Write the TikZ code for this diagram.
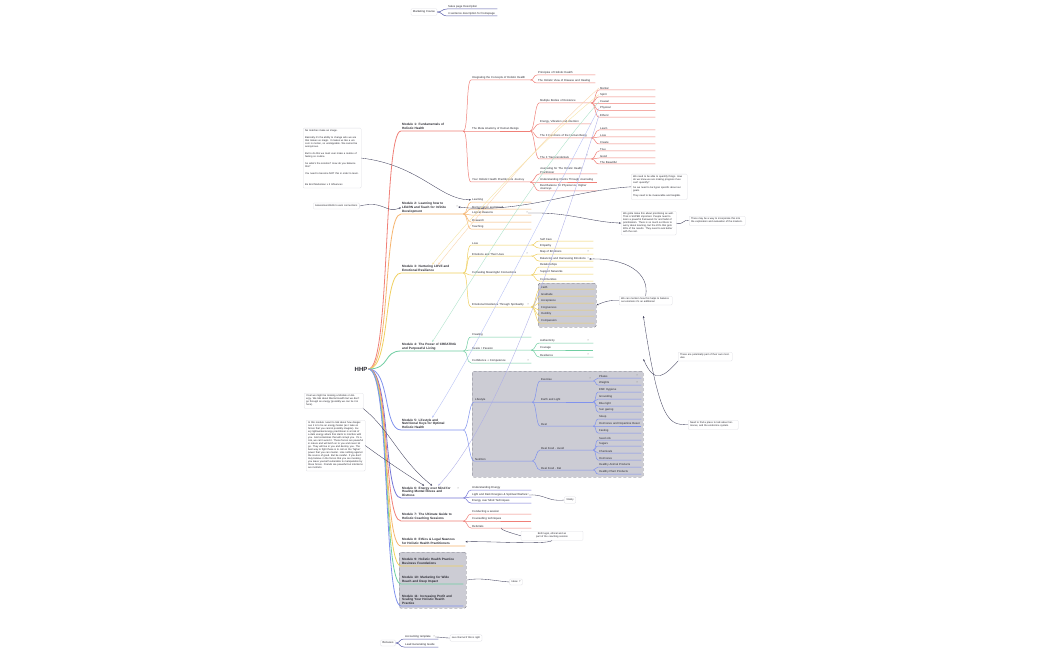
\documentclass[tikz,border=0pt]{standalone}
\usepackage{fontspec}
\setmainfont{Liberation Sans}
\usetikzlibrary{arrows.meta, positioning}

\definecolor{mmred}{RGB}{240,128,120}
\definecolor{mmorange}{RGB}{246,180,110}
\definecolor{mmyellow}{RGB}{240,208,96}
\definecolor{mmgreen}{RGB}{112,206,162}
\definecolor{mmblue}{RGB}{128,146,238}
\definecolor{mmpurple}{RGB}{118,118,214}
\definecolor{mmslate}{RGB}{92,96,170}
\definecolor{linkdark}{RGB}{64,64,92}
\definecolor{notegrey}{RGB}{222,222,228}
\definecolor{boxgrey}{RGB}{204,204,212}
\definecolor{boxedge}{RGB}{110,110,122}
\definecolor{textdark}{RGB}{40,40,48}

\tikzset{
  rootnode/.style={font=\fontsize{6}{7}\selectfont\bfseries, text=textdark, inner sep=1pt},
  modlabel/.style={anchor=south west, inner xsep=1pt, inner ysep=0.9pt, text width=60pt, align=left, text=textdark, font=\fontsize{3.15}{3.9}\selectfont\bfseries},
  leaf/.style={anchor=south west, inner xsep=1pt, inner ysep=0.7pt, align=left, text=textdark, font=\fontsize{2.8}{3.2}\selectfont},
  note/.style={draw=notegrey, fill=white, rounded corners=1pt, line width=0.3pt, inner sep=2pt, align=left, text=textdark, font=\fontsize{2.5}{3}\selectfont},
  qmark/.style={inner sep=0.3pt, text=gray, font=\fontsize{2.6}{3}\selectfont},
  link/.style={draw=linkdark, line width=0.35pt, -{Stealth[length=2.2pt,width=1.8pt]}},
  plainlink/.style={draw=linkdark, line width=0.35pt},
  cross/.style={line width=0.35pt, -{Stealth[length=2.2pt,width=1.8pt]}},
  trunk/.style={line width=0.8pt},
  twig/.style={line width=0.5pt},
  greybox/.style={fill=boxgrey, draw=boxedge, densely dashed, line width=0.35pt, rounded corners=1.5pt, inner sep=0pt, anchor=north west},
}

\begin{document}
\begin{tikzpicture}[x=1pt, y=-1pt]
\fill[white] (0,0) rectangle (1050,650);
\useasboundingbox (0,0) rectangle (1050,650);

% grey group boxes
\node[greybox, minimum width=58pt, minimum height=44pt] (spbox) at (538,283) {};
\node[greybox, minimum width=171pt, minimum height=106pt] (lifebox) at (472,371) {};
\node[greybox, minimum width=67pt, minimum height=56pt] (bizbox) at (399,552) {};

% root
\node[rootnode] (hhp) at (361,369) {HHP};

% modules
\node[modlabel] (m1) at (401,131) {Module 1: Fundamentals of\\Holistic Health};
\node[modlabel] (m2) at (401,214) {Module 2: Learning how to\\LEARN and Teach for Infinite\\Development};
\node[modlabel] (m3) at (401,273) {Module 3: Nurturing LOVE and\\Emotional Resilience};
\node[modlabel] (m4) at (401,351) {Module 4: The Power of CREATING\\and Purposeful Living};
\node[modlabel] (m5) at (401,430) {Module 5: Lifestyle and\\Nutritional Keys for Optimal\\Holistic Health};
\node[modlabel] (m6) at (401,498) {Module 6: Energy over Mind for\\Healing Mental Illness and\\Distress};
\node[modlabel] (m7) at (401,521) {Module 7: The Ultimate Guide to\\Holistic Coaching Sessions};
\node[modlabel, text width=62pt] (m8) at (401,546) {Module 8: Ethics \& Legal Nuances\\for Holistic Health Practitioners};
\node[modlabel] (m9) at (401,566) {Module 9: Holistic Health Practice\\Business Foundations};
\node[modlabel] (m10) at (401,584) {Module 10: Marketing for Wide\\Reach and Deep Impact};
\node[modlabel] (m11) at (401,606) {Module 11: Increasing Profit and\\Scaling Your Holistic Health\\Practice};

\foreach \m/\col in {m1/mmred, m2/mmorange, m3/mmyellow, m4/mmgreen, m5/mmblue, m6/mmpurple,
                   m7/mmred, m8/mmorange, m9/mmyellow, m10/mmgreen, m11/mmblue}
  \draw[\col, trunk] (hhp.east) .. controls +(22,0) and +(-18,0) .. (\m.south west) -- (\m.south east);

% module 1
\foreach \n/\y/\txt in {a/80/{Integrating the Concepts of Holistic Health}, b/131/{The Meta Anatomy of Human Beings}, c/182/{Your Holistic Health Practitioners Journey}} {
  \node[leaf, text width=57pt] (m1\n) at (471,\y) {\txt};
  \draw[mmred, twig] (m1.south east) .. controls +(5,0) and +(-5,0) .. (m1\n.south west) -- (m1\n.south east);
}
\foreach \n/\y/\txt in {1/75/{Principles of Holistic Health}, 2/83/{The Holistic View of Disease and Healing}} {
  \node[leaf, text width=56pt] (m1a\n) at (537,\y) {\txt};
  \draw[mmred, twig] (m1a.south east) .. controls +(4,0) and +(-4,0) .. (m1a\n.south west) -- (m1a\n.south east);
}
\foreach \n/\y/\txt in {1/103/{Multiple Bodies of Existence}, 2/124/{Energy, Vibration and Intention}, 3/138/{The 3 Functions of the Human Being}, 4/159/{The 3 Transcendentals}} {
  \node[leaf, text width=50pt] (m1b\n) at (539,\y) {\txt};
  \draw[mmred, twig] (m1b.south east) .. controls +(4,0) and +(-4,0) .. (m1b\n.south west) -- (m1b\n.south east);
}
\foreach \n/\y/\txt in {a/90/Mental, b/96.8/Spirit, c/103.6/Causal, d/110.4/Physical, e/117.2/Etheric} {
  \node[leaf, text width=54pt] (m1b1\n) at (599,\y) {\txt};
  \draw[mmred, twig] (m1b1.south east) .. controls +(4,0) and +(-4,0) .. (m1b1\n.south west) -- (m1b1\n.south east);
}
\foreach \n/\y/\txt in {a/130/Learn, b/137/Love, c/144/Create} {
  \node[leaf, text width=54pt] (m1b3\n) at (599,\y) {\txt};
  \draw[mmred, twig] (m1b3.south east) .. controls +(4,0) and +(-4,0) .. (m1b3\n.south west) -- (m1b3\n.south east);
}
\foreach \n/\y/\txt in {a/151/True, b/158/Good, c/164/The Beautiful} {
  \node[leaf, text width=54pt] (m1b4\n) at (599,\y) {\txt};
  \draw[mmred, twig] (m1b4.south east) .. controls +(4,0) and +(-4,0) .. (m1b4\n.south west) -- (m1b4\n.south east);
}
\node[qmark] (q1) at (587,156) {?};
\foreach \n/\y/\txt in {1/174/{Journaling for The Holistic Health\\Practitioner}, 2/182/{Understanding Clients Through Journaling}, 3/191/{Best Balance for Physical vs. Higher\\Journeys}} {
  \node[leaf, text width=56pt] (m1c\n) at (539,\y) {\txt};
  \draw[mmred, twig] (m1c.south east) .. controls +(4,0) and +(-4,0) .. (m1c\n.south west) -- (m1c\n.south east);
}

% module 2
\foreach \n/\y/\txt in {a/202/Learning, b/209/Memorization and Recall, c/215/Logical Reasons, d/222/Research, e/229/Teaching} {
  \node[leaf, text width=58pt] (m2\n) at (471,\y) {\txt};
  \draw[mmorange, twig] (m2.south east) .. controls +(4,0) and +(-4,0) .. (m2\n.south west) -- (m2\n.south east);
}
\node[qmark] (q2) at (457,207) {?};
\node[qmark] (q2c) at (527,213) {?};

% module 3
\foreach \n/\y/\txt in {a/245/Love, b/256/Emotions and Their Uses, c/275/Cultivating Meaningful Connections, d/307/Emotional Resilience Through Spirituality} {
  \node[leaf, text width=58pt] (m3\n) at (471,\y) {\txt};
  \draw[mmyellow, twig] (m3.south east) .. controls +(5,0) and +(-5,0) .. (m3\n.south west) -- (m3\n.south east);
}
\node[qmark] at (527,254) {?};
\node[qmark] at (528,305) {?};
\foreach \n/\y/\txt in {1/241/Self Care, 2/248/Empathy} {
  \node[leaf, text width=52pt] (m3a\n) at (539,\y) {\txt};
  \draw[mmyellow, twig] (m3a.south east) .. controls +(4,0) and +(-4,0) .. (m3a\n.south west) -- (m3a\n.south east);
}
\foreach \n/\y/\txt in {1/254/Map of Emotions, 2/261/Balancing and Harnessing Emotions} {
  \node[leaf, text width=52pt] (m3b\n) at (539,\y) {\txt};
  \draw[mmyellow, twig] (m3b.south east) .. controls +(4,0) and +(-4,0) .. (m3b\n.south west) -- (m3b\n.south east);
}
\node[qmark] at (588,252) {?};
\node[qmark] (q3b) at (588,259) {?};
\foreach \n/\y/\txt in {1/267/Relationships, 2/274/Support Networks, 3/281/Communities} {
  \node[leaf, text width=52pt] (m3c\n) at (539,\y) {\txt};
  \draw[mmyellow, twig] (m3c.south east) .. controls +(4,0) and +(-4,0) .. (m3c\n.south west) -- (m3c\n.south east);
}
\foreach \n/\y/\txt in {1/289/Faith, 2/296/Gratitude, 3/303/Acceptance, 4/310/Forgiveness, 5/316/Humility, 6/323/Compassion} {
  \node[leaf, text width=52pt] (m3d\n) at (540,\y) {\txt};
  \draw[mmyellow, twig] (m3d.south east) .. controls +(4,0) and +(-4,0) .. (m3d\n.south west) -- (m3d\n.south east);
}

% module 4
\foreach \n/\y/\txt in {a/337/Creating, b/350/{Desire / Passion}, c/363/Confidence + Competence} {
  \node[leaf, text width=58pt] (m4\n) at (471,\y) {\txt};
  \draw[mmgreen, twig] (m4.south east) .. controls +(5,0) and +(-5,0) .. (m4\n.south west) -- (m4\n.south east);
}
\node[qmark] at (528,361) {?};
\foreach \n/\y/\txt in {1/343/Authenticity, 2/350/Courage, 3/357/Resilience} {
  \node[leaf, text width=52pt] (m4b\n) at (539,\y) {\txt};
  \draw[mmgreen, twig] (m4b.south east) .. controls +(4,0) and +(-4,0) .. (m4b\n.south west) -- (m4b\n.south east);
}
\node[qmark] at (588,341) {?};
\node[qmark] at (588,355) {?};

% module 5
\foreach \n/\y/\txt in {a/402/Lifestyle, b/461/Nutrition} {
  \node[leaf, text width=56pt] (m5\n) at (474,\y) {\txt};
  \draw[mmblue, twig] (m5.south east) .. controls +(5,0) and +(-5,0) .. (m5\n.south west) -- (m5\n.south east);
}
\foreach \n/\y/\txt in {1/381/Exercise, 2/402/Earth and Light, 3/426/Rest} {
  \node[leaf, text width=51pt] (m5a\n) at (540,\y) {\txt};
  \draw[mmblue, twig] (m5a.south east) .. controls +(4,0) and +(-4,0) .. (m5a\n.south west) -- (m5a\n.south east);
}
\node[qmark] at (590,379) {?};
\foreach \n/\y/\txt in {1/450/Real Food - Avoid, 2/470/Real Food - Eat} {
  \node[leaf, text width=51pt] (m5b\n) at (540,\y) {\txt};
  \draw[mmblue, twig] (m5b.south east) .. controls +(4,0) and +(-4,0) .. (m5b\n.south west) -- (m5b\n.south east);
}
\foreach \n/\y/\txt in {a/378/Pilates, b/385/Weights} {
  \node[leaf, text width=41pt] (m5a1\n) at (598,\y) {\txt};
  \draw[mmblue, twig] (m5a1.south east) .. controls +(3,0) and +(-3,0) .. (m5a1\n.south west) -- (m5a1\n.south east);
}
\node[qmark] at (637,376) {?};
\node[qmark] at (637,383) {?};
\foreach \n/\y/\txt in {a/392/EMF Hygiene, b/399/Grounding, c/406/Blue light, d/412/Sun gazing} {
  \node[leaf, text width=41pt] (m5a2\n) at (598,\y) {\txt};
  \draw[mmblue, twig] (m5a2.south east) .. controls +(3,0) and +(-3,0) .. (m5a2\n.south west) -- (m5a2\n.south east);
}
\foreach \n/\y/\txt in {a/419/Sleep, b/426/Hormones and Dopamine Reset, c/433/Fasting} {
  \node[leaf, text width=41pt] (m5a3\n) at (598,\y) {\txt};
  \draw[mmblue, twig] (m5a3.south east) .. controls +(3,0) and +(-3,0) .. (m5a3\n.south west) -- (m5a3\n.south east);
}
\foreach \n/\y/\txt in {a/440/Seed oils, b/446/Sugars, c/453/Chemicals, d/460/Hormones} {
  \node[leaf, text width=41pt] (m5b1\n) at (598,\y) {\txt};
  \draw[mmblue, twig] (m5b1.south east) .. controls +(3,0) and +(-3,0) .. (m5b1\n.south west) -- (m5b1\n.south east);
}
\foreach \n/\y/\txt in {a/467/Healthy Animal Products, b/474/Healthy Plant Products} {
  \node[leaf, text width=41pt] (m5b2\n) at (598,\y) {\txt};
  \draw[mmblue, twig] (m5b2.south east) .. controls +(3,0) and +(-3,0) .. (m5b2\n.south west) -- (m5b2\n.south east);
}

% module 6
\foreach \n/\y/\txt in {a/490/Understanding Energy, b/497/Light and Dark Energies \& Spiritual Warfare, c/503/Energy over Mind Techniques} {
  \node[leaf, text width=58pt] (m6\n) at (471,\y) {\txt};
  \draw[mmpurple, twig] (m6.south east) .. controls +(4,0) and +(-4,0) .. (m6\n.south west) -- (m6\n.south east);
}
\node[qmark] (q6) at (528,495) {?};
\node[qmark] at (458,489) {?};

% module 7
\foreach \n/\y/\txt in {a/514/Conducting a session, b/521/Counselling techniques, c/528/Referrals} {
  \node[leaf, text width=58pt] (m7\n) at (471,\y) {\txt};
  \draw[mmred, twig] (m7.south east) .. controls +(4,0) and +(-4,0) .. (m7\n.south west) -- (m7\n.south east);
}

% marketing course and bonuses
\node[note, font=\fontsize{2.8}{3.3}\selectfont] (mkt) at (424,12) {Marketing Course};
\foreach \n/\y/\txt in {a/9/Sales page Description, b/16/4 sentence description for homepage} {
  \node[leaf, text width=48pt] (mkt\n) at (447,\y) {\txt};
  \draw[mmslate, twig] (mkt.east) .. controls +(5,0) and +(-5,0) .. (mkt\n.south west) -- (mkt\n.south east);
}
\node[note, font=\fontsize{2.8}{3.3}\selectfont] (bon) at (388,643) {Bonuses};
\foreach \n/\y/\txt in {a/639/Accounting template, b/647/Lead Generating Guide} {
  \node[leaf, text width=32pt] (bon\n) at (404,\y) {\txt};
  \draw[mmslate, twig] (bon.east) .. controls +(5,0) and +(-5,0) .. (bon\n.south west) -- (bon\n.south east);
}
\node[qmark] (qbon) at (434,637) {?};

% notes
\node[note, text width=54pt, anchor=north west] (nleft) at (303,128) {%
No matches make an image.\\[4pt]
Basically it's the ability to change who we are that makes us magic. It makes us like a unicorn in motion, so unstoppable. We cannot be anonymous.\\[4pt]
But to do this we must ever make a routine of feeling so routine.\\[4pt]
So what's the solution? How do you balance this?\\[4pt]
You need to become NOT this in order to learn.\\[8pt]
Be End Marksman x 3 Influences};
\node[note, anchor=west] (nassess) at (313,206) {Assessment/skills to earn connections};
\node[note, text width=52pt, anchor=north west] (nA) at (631,174) {%
We need to be able to quantify things. How do we know we are making progress if we can't quantify?\\[2pt]
So we need to be hyper specific about our goals.\\[2pt]
They need to be measurable and tangible.};
\node[note, text width=51pt, anchor=north west] (nB) at (621,211) {%
We gotta make this about prioritising as well. That is SUPER important. People need to learn a powerful framework for and habit of prioritisation. There is so much out there to worry about learning, but the 20\% that gets 80\% of the results. They need to ask better with the rest.};
\node[note, text width=52pt, anchor=north west] (nC) at (689,216) {%
There may be a way to incorporate this into the exploration and evaluation of the masters.};
\node[note, text width=49pt, anchor=north west] (nbal) at (619,296) {%
We can mention how this helps to balance out emotions it's an additional};
\node[note, text width=50pt, anchor=north west] (nown) at (678,352) {%
These are potentially part of their own modules.};
\node[note, text width=46pt, anchor=north west] (nhorm) at (688,420) {%
Need to find a place to talk about hormones, and the endocrine system.};
\node[note, text width=55pt, anchor=north west] (nD) at (304,393) {%
I feel we might be missing a Module on Energy. We talk about Mental Health but we don't go through an energy (possibly we can tie it in here).};
\node[note, text width=55pt, anchor=north west] (nE) at (306,420) {%
In this module I want to talk about how dangerous it is to be an energy healer (as I take on forces that you cannot possibly imagine). Every lightworker/energy practitioner is at risk of a dark energy attack that starts to interfere with you. And sometimes that will corrupt you. It's a risk, we can't avoid it. These forces are powerful in nature and will latch on to you and never let go. They will live in you and destroy you. The best way to fight these is to call on the 'higher' power that you can muster. Like nothing against the source of good. But be careful. If you don't truly believe in the forces that you are invoking you leave yourself vulnerable to manipulation by those forces. Friends are powerful but intentions are instincts.};
\node[note] (nvit) at (570,500) {Vitality};
\node[note, text width=58pt, align=center, anchor=north] (nref) at (552,531) {Both legal, ethical and as part of the coaching session};
\node[note] (nidea) at (516,582) {Ideas ~?};
\node[note] (nchan) at (466,638) {see channel if this is right};

% relationships
\draw[link] (nleft.east) .. controls (420,165) and (440,200) .. (m2a.west);
\draw[link] (nassess.east) .. controls (385,200) and (385,214) .. (m2.west);
\draw[link] (nA.west) .. controls (575,190) and (520,214) .. (q2.east);
\draw[link] (q2c.east) .. controls (570,212) and (590,222) .. (nB.west);
\draw[plainlink] (nB.east) .. controls (683,226) and (684,218) .. (nC.west);
\draw[link] (nbal.north) .. controls (650,272) and (625,258) .. (q3b.east);
\draw[link] (nbal.west) .. controls (608,300) and (604,302) .. (spbox.east);
\draw[link] (nown.south west) .. controls (665,375) and (655,386) .. ([yshift=12pt]lifebox.north east);
\draw[link] (nhorm.west) .. controls (670,424) and (660,427) .. ([yshift=55pt]lifebox.north east);
\draw[link] (nD.south east) .. controls (390,430) and (400,460) .. (m6.north);
\draw[link] (nE.east) .. controls (385,460) and (400,470) .. ([xshift=-8pt]m6.north);
\draw[plainlink] (q6.east) .. controls (545,494) and (548,502) .. (nvit.west);
\draw[plainlink] (m7c.south) .. controls (500,530) and (515,534) .. (nref.west);
\draw[link] (nref.south) .. controls (545,545) and (490,541) .. (m8.east);
\draw[plainlink] (bizbox.east) .. controls (480,577) and (495,581) .. (nidea.west);
\draw[plainlink] (qbon.east) .. controls (440,637) and (445,638) .. (nchan.west);

% cross links from the bodies
\draw[cross, mmorange!60] (m1b1a.west) .. controls (540,140) and (470,225) .. ([xshift=6pt]m3.north);
\draw[cross, mmyellow!60] (m1b1b.west) .. controls (530,150) and (460,230) .. (m3.north);
\draw[cross, mmgreen!60] (m1b1c.west) .. controls (530,180) and (460,300) .. (m4.north);
\draw[cross, mmblue!60] (m1b1d.west) .. controls (540,220) and (470,360) .. (m5.north);
\draw[cross, mmpurple!60] (m1b1e.west) .. controls (560,240) and (500,420) .. ([xshift=6pt]m6.north);
\end{tikzpicture}
\end{document}
